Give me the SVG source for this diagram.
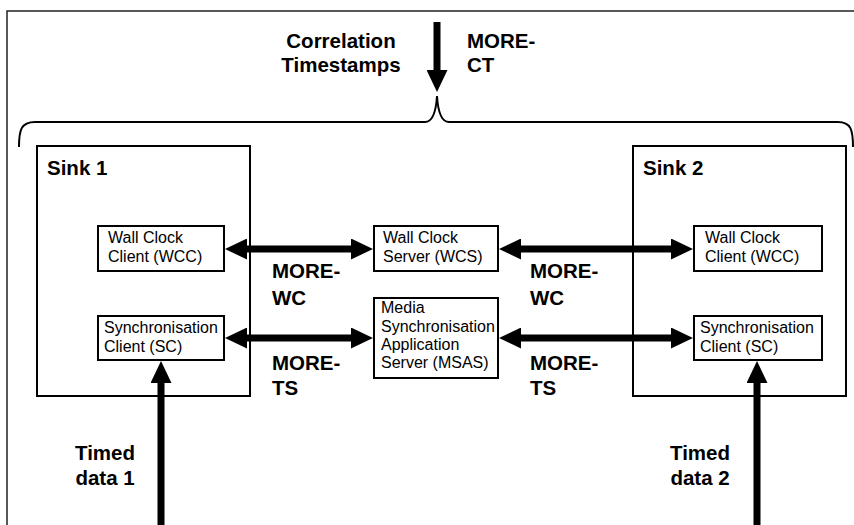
<svg xmlns="http://www.w3.org/2000/svg" width="854" height="525" viewBox="0 0 854 525">
<style>
  .frame{fill:none;stroke:#222;stroke-width:1.5}
  .box{fill:#fff;stroke:#000;stroke-width:2}
  .sink{fill:none;stroke:#000;stroke-width:2}
  .t{font-family:"Liberation Sans",Arial,sans-serif;font-size:16px;fill:#000}
  .b{font-family:"Liberation Sans",Arial,sans-serif;font-size:20.5px;font-weight:bold;fill:#000}
  .arr{stroke:#000;stroke-width:7;fill:none}
</style>
<defs>
  <marker id="head" markerUnits="userSpaceOnUse" markerWidth="22" markerHeight="21" refX="12" refY="10.5" orient="auto-start-reverse" viewBox="0 0 22 21">
    <path d="M0,0 L22,10.5 L0,21 Z" fill="#000"/>
  </marker>
</defs>
<rect width="854" height="525" fill="#fff"/>
<rect class="frame" x="7" y="11" width="870" height="600"/>
<g id="brace">
  <path d="M19,147 C19,130 21,122 35,122 L425,122 C433,122 436,112 437,96 C438,112 441,122 449,122 L838,122 C851,122 853,130 853,147" fill="none" stroke="#000" stroke-width="2"/>
</g>
<g id="correlation-label">
  <text class="b" text-anchor="middle" x="341" y="48">Correlation</text>
  <text class="b" text-anchor="middle" x="341" y="72">Timestamps</text>
  <text class="b" x="467" y="48">MORE-</text>
  <text class="b" x="467" y="72">CT</text>
</g>
<g id="sink1">
  <rect class="sink" x="37" y="146" width="213" height="250"/>
  <text class="b" x="47" y="175">Sink 1</text>
</g>
<g id="sink2">
  <rect class="sink" x="633" y="146" width="213" height="250"/>
  <text class="b" x="643" y="175">Sink 2</text>
</g>
<g id="connectors">
  <line class="arr" x1="437" y1="22" x2="437" y2="82" marker-end="url(#head)"/>
  <line class="arr" x1="235" y1="249" x2="363" y2="249" marker-start="url(#head)" marker-end="url(#head)"/>
  <line class="arr" x1="509" y1="249" x2="683" y2="249" marker-start="url(#head)" marker-end="url(#head)"/>
  <line class="arr" x1="235" y1="338" x2="363" y2="338" marker-start="url(#head)" marker-end="url(#head)"/>
  <line class="arr" x1="509" y1="338" x2="683" y2="338" marker-start="url(#head)" marker-end="url(#head)"/>
  <line class="arr" x1="161" y1="530" x2="161" y2="371" marker-end="url(#head)"/>
  <line class="arr" x1="757" y1="530" x2="757" y2="371" marker-end="url(#head)"/>
</g>
<g id="wcc1">
  <rect class="box" x="98" y="226" width="126" height="45"/>
  <text class="t" x="108" y="243">Wall Clock</text>
  <text class="t" x="108" y="262">Client (WCC)</text>
</g>
<g id="sc1">
  <rect class="box" x="98" y="316" width="126" height="44"/>
  <text class="t" x="104" y="333">Synchronisation</text>
  <text class="t" x="104" y="352">Client (SC)</text>
</g>
<g id="wcs">
  <rect class="box" x="374" y="226" width="124" height="45"/>
  <text class="t" x="383" y="243">Wall Clock</text>
  <text class="t" x="383" y="262">Server (WCS)</text>
</g>
<g id="msas">
  <rect class="box" x="374" y="298" width="124" height="80"/>
  <text class="t" x="381" y="313">Media</text>
  <text class="t" x="381" y="332">Synchronisation</text>
  <text class="t" x="381" y="350">Application</text>
  <text class="t" x="381" y="368">Server (MSAS)</text>
</g>
<g id="wcc2">
  <rect class="box" x="694" y="226" width="128" height="45"/>
  <text class="t" x="705" y="243">Wall Clock</text>
  <text class="t" x="705" y="262">Client (WCC)</text>
</g>
<g id="sc2">
  <rect class="box" x="694" y="316" width="128" height="44"/>
  <text class="t" x="700" y="333">Synchronisation</text>
  <text class="t" x="700" y="352">Client (SC)</text>
</g>
<g id="labels">
  <text class="b" x="272" y="278">MORE-</text>
  <text class="b" x="272" y="305">WC</text>
  <text class="b" x="530" y="278">MORE-</text>
  <text class="b" x="530" y="305">WC</text>
  <text class="b" x="272" y="370">MORE-</text>
  <text class="b" x="272" y="395">TS</text>
  <text class="b" x="530" y="370">MORE-</text>
  <text class="b" x="530" y="395">TS</text>
  <text class="b" text-anchor="middle" x="105" y="460">Timed</text>
  <text class="b" text-anchor="middle" x="105" y="485">data 1</text>
  <text class="b" text-anchor="middle" x="700" y="460">Timed</text>
  <text class="b" text-anchor="middle" x="700" y="485">data 2</text>
</g>
</svg>
